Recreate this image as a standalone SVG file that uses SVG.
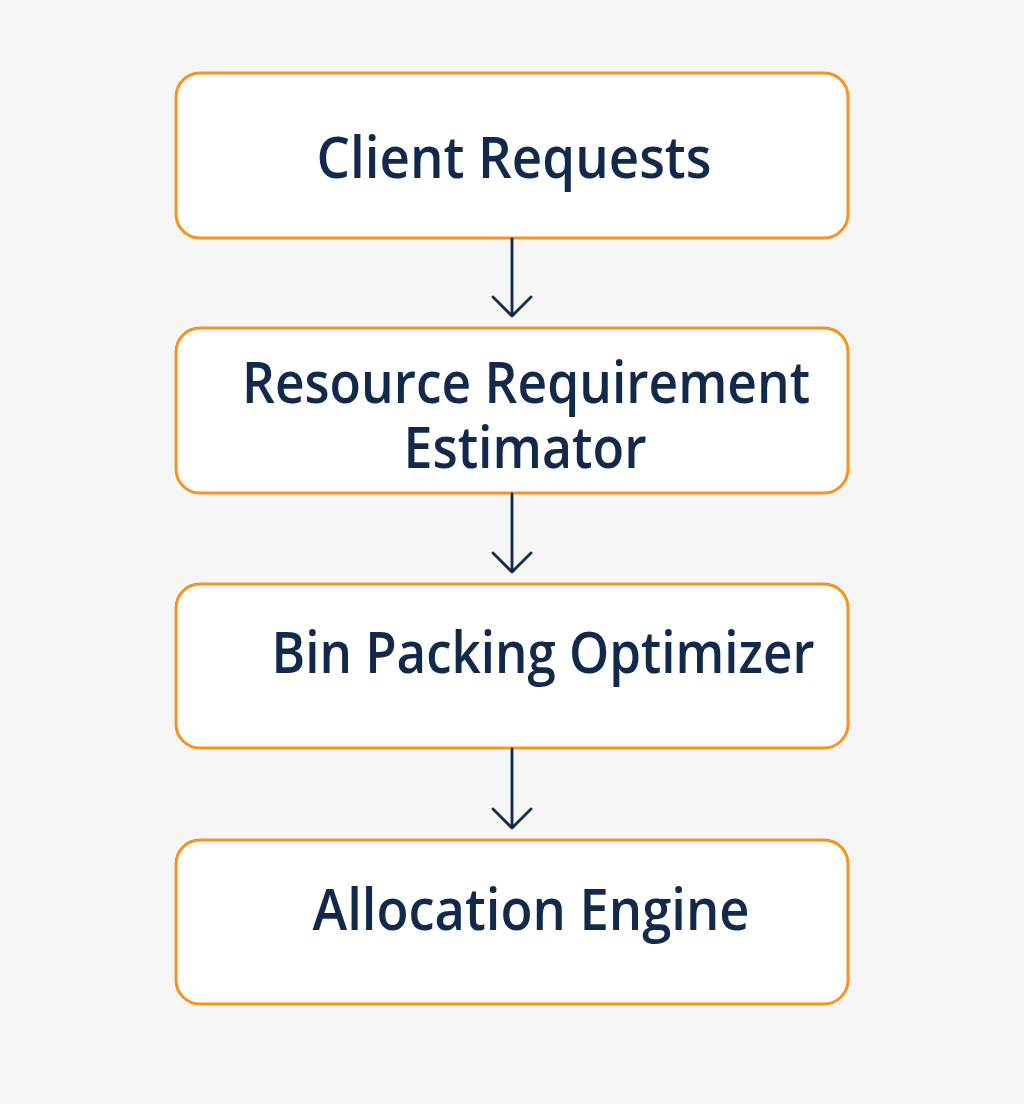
<svg xmlns="http://www.w3.org/2000/svg" width="1024" height="1104" viewBox="0 0 1024 1104">
<defs>
<style>
.box{fill:#ffffff;stroke:#f7931e;stroke-width:3}
.lbl{font-family:"Open Sans","Noto Sans",sans-serif;font-size:58px;font-weight:600;fill:#13294b;text-anchor:middle}
.conn{stroke:#13294b;stroke-width:2.8;fill:none;stroke-linecap:round;stroke-linejoin:round}
</style>
</defs>
<rect width="1024" height="1104" fill="#f6f6f6"/>
<g id="node-client">
<rect class="box" x="176" y="73" width="672" height="165" rx="24"/>
<text class="lbl" x="514" y="178" textLength="395" lengthAdjust="spacingAndGlyphs">Client Requests</text>
</g>
<g id="node-estimator">
<rect class="box" x="176" y="328" width="672" height="165" rx="24"/>
<text class="lbl" x="526" y="403" textLength="568" lengthAdjust="spacingAndGlyphs">Resource Requirement</text>
<text class="lbl" x="525" y="468" textLength="243" lengthAdjust="spacingAndGlyphs">Estimator</text>
</g>
<g id="node-optimizer">
<rect class="box" x="176" y="584" width="672" height="164" rx="24"/>
<text class="lbl" x="543" y="673" textLength="543" lengthAdjust="spacingAndGlyphs">Bin Packing Optimizer</text>
</g>
<g id="node-engine">
<rect class="box" x="176" y="840" width="672" height="164" rx="24"/>
<text class="lbl" x="531" y="930" textLength="437" lengthAdjust="spacingAndGlyphs">Allocation Engine</text>
</g>
<g id="connectors">
<path class="conn" d="M512 239 V316 M493 297 L512 316 L531 297"/>
<path class="conn" d="M512 494 V572 M493 553 L512 572 L531 553"/>
<path class="conn" d="M512 749 V828 M493 809 L512 828 L531 809"/>
</g>
</svg>
